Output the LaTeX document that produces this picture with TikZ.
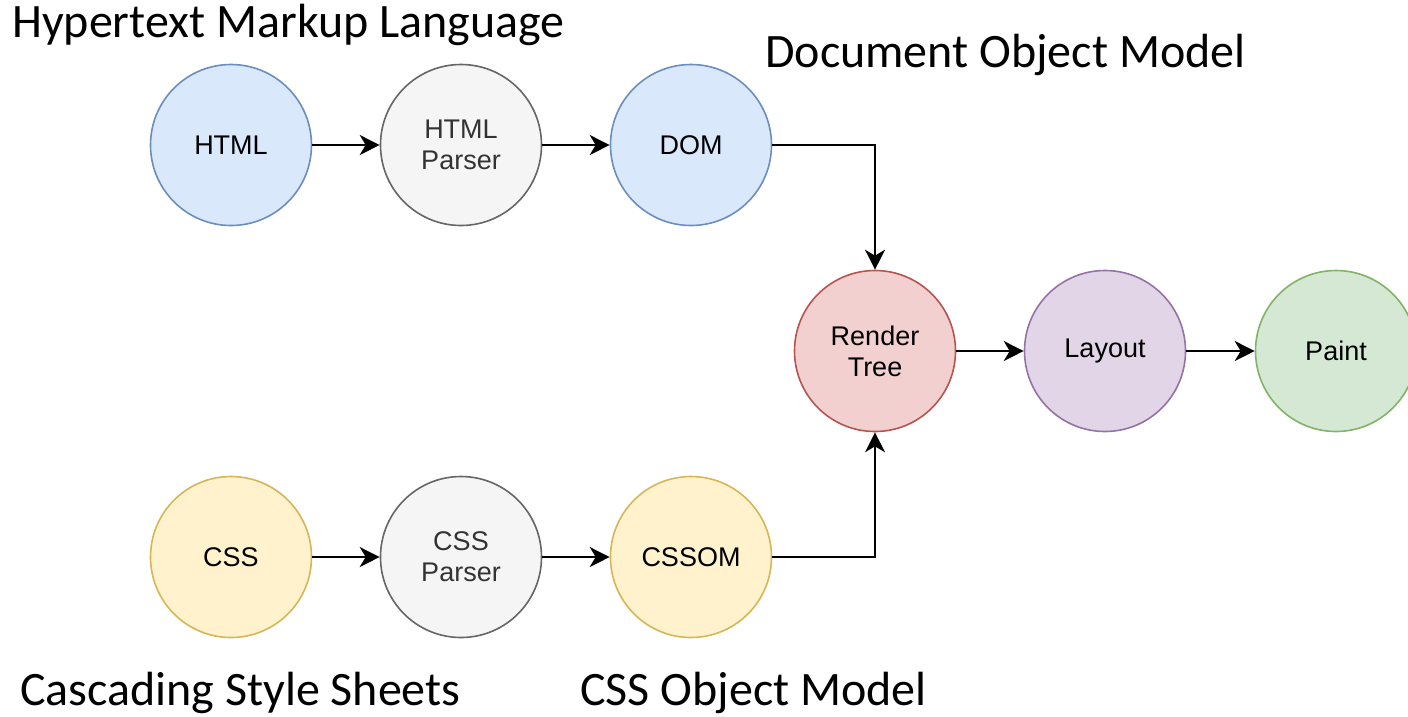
\documentclass[tikz,border=0pt]{standalone}
\usepackage{fontspec}
\setmainfont{Liberation Sans}
\newfontfamily\calib{Carlito}
\usetikzlibrary{arrows.meta}
\definecolor{bluef}{HTML}{DAE8FC}\definecolor{blued}{HTML}{6C8EBF}
\definecolor{grayf}{HTML}{F5F5F5}\definecolor{grayd}{HTML}{666666}
\definecolor{redf}{HTML}{F2D0CF}\definecolor{redd}{HTML}{B85450}
\definecolor{purf}{HTML}{E1D5E7}\definecolor{purd}{HTML}{9673A6}
\definecolor{grnf}{HTML}{D5E8D4}\definecolor{grnd}{HTML}{82B366}
\definecolor{yelf}{HTML}{FFF2CC}\definecolor{yeld}{HTML}{D6B656}
\definecolor{txtg}{HTML}{333333}
\tikzset{
  proc/.style={circle, minimum size=161pt, inner sep=0pt, line width=1.6pt, align=center,
    font=\fontsize{27}{31}\selectfont},
  bluec/.style={proc, fill=bluef, draw=blued},
  grayc/.style={proc, fill=grayf, draw=grayd, text=txtg},
  redc/.style={proc, fill=redf, draw=redd},
  purc/.style={proc, fill=purf, draw=purd},
  grnc/.style={proc, fill=grnf, draw=grnd},
  yelc/.style={proc, fill=yelf, draw=yeld},
  flow/.style={line width=1.6pt, -{Stealth[length=20pt, width=20pt, inset=6pt]}},
  biglabel/.style={anchor=base west, inner sep=0pt, font=\calib\fontsize{48}{57}\selectfont}
}
\begin{document}
\begin{tikzpicture}[x=1pt, y=-1pt]
\useasboundingbox (0,0) rectangle (1408,716);
\fill[white] (0,0) rectangle (1408,716);
\begin{scope}
\clip (0,0) rectangle (1408,716);
\node[bluec] (html) at (231,145) {\raisebox{-2pt}{HTML}};
\node[grayc] (hparser) at (461,145) {HTML\\Parser};
\node[bluec] (dom) at (691,145) {\raisebox{-2pt}{DOM}};
\node[redc] (render) at (875,351) {Render\\Tree};
\node[purc] (layout) at (1105,351) {\raisebox{-2pt}{Layout}};
\node[grnc] (paint) at (1336,351) {\raisebox{-2pt}{Paint}};
\node[yelc] (css) at (231,557) {\raisebox{-2pt}{CSS}};
\node[grayc] (cparser) at (461,557) {CSS\\Parser};
\node[yelc] (cssom) at (691,557) {\raisebox{-2pt}{CSSOM}};
\end{scope}
\draw[flow] (html) -- (hparser);
\draw[flow] (hparser) -- (dom);
\draw[flow] (dom.east) -| (render.north);
\draw[flow] (css) -- (cparser);
\draw[flow] (cparser) -- (cssom);
\draw[flow] (cssom.east) -| (render.south);
\draw[flow] (render) -- (layout);
\draw[flow] (layout) -- (paint);
\node[biglabel] (lhtml) at (12,37) {Hypertext Markup Language};
\node[biglabel] (ldom) at (765,67) {Document Object Model};
\node[biglabel] (lcss) at (20,705) {Cascading Style Sheets};
\node[biglabel] (lcssom) at (580,705) {CSS Object Model};
\end{tikzpicture}
\end{document}
